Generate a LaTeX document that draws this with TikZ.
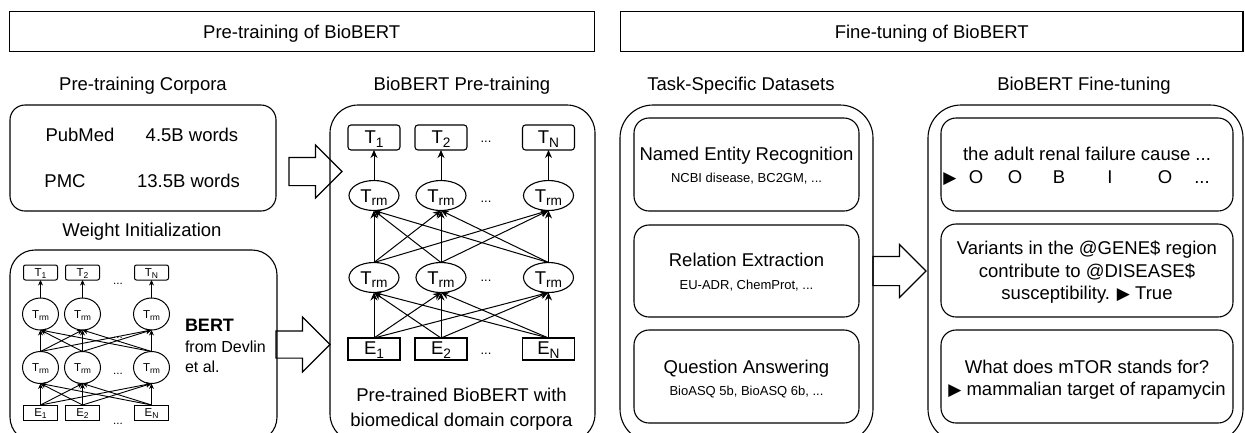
\documentclass[tikz,border=0pt]{standalone}
\usepackage{fontspec}
\setmainfont{Liberation Sans}
\newfontfamily\dejavu{DejaVu Sans}
\usepackage{graphicx}
\usetikzlibrary{shapes.geometric,shapes.arrows,arrows.meta}
\newcommand{\bigf}{\fontsize{18.5bp}{22bp}\selectfont}
\newcommand{\smallf}{\fontsize{13bp}{15bp}\selectfont}
\newcommand{\minif}{\fontsize{11.5bp}{13bp}\selectfont}
\newcommand{\lowsub}[1]{\raisebox{-0.2em}{\scalebox{0.74}{#1}}}
\newcommand{\tri}{{\dejavu\fontsize{17bp}{17bp}\selectfont ▶}}
\tikzset{
  every node/.style={inner sep=0pt, outer sep=0pt},
  ln/.style={line width=1.1bp, draw=black},
  hdr/.style={ln, rectangle, minimum height=40bp, font=\bigf, text height=13.3bp, text depth=0bp},
  panel/.style={ln, rectangle},
  tbox/.style={ln, rectangle, rounded corners=3bp, minimum width=52bp, minimum height=25bp, font=\bigf, text height=13.3bp, text depth=1.5bp},
  ebox/.style={ln, rectangle, minimum width=52bp, minimum height=22bp, font=\bigf, text height=13.3bp, text depth=1.5bp},
  trm/.style={ln, ellipse, minimum width=50bp, minimum height=30bp, font=\bigf, text height=13.3bp, text depth=0bp},
  mtbox/.style={ln, line width=1bp, rectangle, rounded corners=2bp, minimum width=34bp, minimum height=15bp, font=\minif, text height=8.3bp, text depth=1bp},
  mebox/.style={ln, line width=1bp, rectangle, minimum width=34bp, minimum height=15bp, font=\minif, text height=8.3bp, text depth=1bp},
  mtrm/.style={ln, line width=1bp, ellipse, minimum width=36bp, minimum height=32bp, font=\minif, text height=8.3bp, text depth=0bp},
  txt/.style={anchor=base, font=\bigf},
  stxt/.style={anchor=base, font=\smallf},
  dots/.style={anchor=base, font=\smallf},
  mdots/.style={anchor=base, font=\minif},
  arr/.style={line width=1bp, -{Stealth[length=8bp,width=7bp]}},
  marr/.style={line width=0.9bp, -{Stealth[length=5.5bp,width=5bp]}},
  blockarrow/.style={ln, single arrow, single arrow tip angle=90, anchor=tail, shape border rotate=0, inner xsep=0pt}
}
\begin{document}
\begin{tikzpicture}[x=1bp, y=-1bp]
\clip (0,0) rectangle (1245,432);
\fill[white] (0,0) rectangle (1245,432);

% headers
\node[hdr, minimum width=584.7bp] (hpre) at (301.7,31.7) {Pre-training of BioBERT};
\node[hdr, minimum width=622.4bp] (hfine) at (931.8,31.7) {Fine-tuning of BioBERT};

% section titles
\node[txt] (tcorp) at (143,90.6) {Pre-training Corpora};
\node[txt] (tbiopre) at (462,90.6) {BioBERT Pre-training};
\node[txt] (ttask) at (741,90.6) {Task-Specific Datasets};
\node[txt] (tfine) at (1084,90.6) {BioBERT Fine-tuning};
\node[txt] (tweight) at (142,236.6) {Weight Initialization};

% panels
\node[panel, rounded corners=15bp, minimum width=266bp, minimum height=106bp] (corp) at (143,158) {};
\node[panel, rounded corners=25bp, minimum width=267bp, minimum height=192bp] (bert) at (143.5,346) {};
\node[panel, rounded corners=28bp, minimum width=265bp, minimum height=337bp] (bio) at (462.5,273.5) {};
\node[panel, rounded corners=33bp, minimum width=253bp, minimum height=337bp] (task) at (746.5,273.5) {};
\node[panel, rounded corners=33bp, minimum width=315bp, minimum height=337bp] (fine) at (1085.5,273.5) {};

% corpora text
\node[txt] (pubmed) at (80,141.1) {PubMed};
\node[txt] (pubmedw) at (192,141.1) {4.5B words};
\node[txt] (pmc) at (65,187.6) {PMC};
\node[txt] (pmcw) at (188.5,187.6) {13.5B words};

% BERT mini network
\foreach \n/\x in {1/40.5,2/82.5,3/151.5}{
  \node[mtrm] (mr1\n) at (\x,314) {T\lowsub{rm}};
  \node[mtrm] (mr2\n) at (\x,367.5) {T\lowsub{rm}};
}
\node[mtbox] (mt1) at (40.5,272.5) {T\lowsub{1}};
\node[mtbox] (mt2) at (82.5,272.5) {T\lowsub{2}};
\node[mtbox] (mt3) at (151.5,272.5) {T\lowsub{N}};
\node[mebox] (me1) at (40.5,412.5) {E\lowsub{1}};
\node[mebox] (me2) at (82.5,412.5) {E\lowsub{2}};
\node[mebox] (me3) at (151.5,412.5) {E\lowsub{N}};
\node[mdots] (md1) at (118,284) {...};
\node[mdots] (md2) at (118,338) {...};
\node[mdots] (md3) at (118,374) {...};
\node[mdots] (md4) at (118,424.5) {...};
\foreach \i in {1,2,3}{
  \draw[marr] (mr1\i.north) -- (mt\i.south);
  \foreach \j in {1,2,3}{
    \draw[marr] (me\i.north) -- (mr2\j.south);
    \draw[marr] (mr2\i.north) -- (mr1\j.south);
  }
}
\node[anchor=base west, font=\fontsize{18bp}{20bp}\selectfont\bfseries] (bertlbl) at (185,331.5) {BERT};
\node[anchor=base west, font=\fontsize{16bp}{18bp}\selectfont] (bertsrc1) at (185,352) {from Devlin};
\node[anchor=base west, font=\fontsize{16bp}{18bp}\selectfont] (bertsrc2) at (185,372) {et al.};

% BioBERT main network
\foreach \n/\x in {1/374,2/441,3/548.5}{
  \node[trm] (r1\n) at (\x,195.5) {T\lowsub{rm}};
  \node[trm] (r2\n) at (\x,277.5) {T\lowsub{rm}};
}
\node[tbox] (t1) at (374,137.5) {T\lowsub{1}};
\node[tbox] (t2) at (441,137.5) {T\lowsub{2}};
\node[tbox] (t3) at (548.5,137.5) {T\lowsub{N}};
\node[ebox] (e1) at (374,349) {E\lowsub{1}};
\node[ebox] (e2) at (441,349) {E\lowsub{2}};
\node[ebox] (e3) at (548.5,349) {E\lowsub{N}};
\node[dots] (d1) at (486,142.7) {...};
\node[dots] (d2) at (486,202.7) {...};
\node[dots] (d3) at (486,281) {...};
\node[dots] (d4) at (486,354) {...};
\foreach \i in {1,2,3}{
  \draw[arr] (r1\i.north) -- (t\i.south);
  \foreach \j in {1,2,3}{
    \draw[arr] (e\i.north) -- (r2\j.south);
    \draw[arr] (r2\i.north) -- (r1\j.south);
  }
}
\node[txt] (biocap1) at (461.5,401.6) {Pre-trained BioBERT with};
\node[txt] (biocap2) at (461.5,426.6) {biomedical domain corpora};

% block arrows
\node[blockarrow, minimum height=53bp, inner ysep=13.5bp, single arrow head extend=12.5bp] (ba1) at (289,171.5) {};
\node[blockarrow, minimum height=54bp, inner ysep=13bp, single arrow head extend=14bp] (ba2) at (276,344.5) {};
\node[blockarrow, minimum height=53bp, inner ysep=14bp, single arrow head extend=12bp] (ba3) at (873,271) {};

% task-specific datasets
\node[panel, rounded corners=15bp, minimum width=225bp, minimum height=93bp] (ner) at (746.5,164.5) {};
\node[panel, rounded corners=15bp, minimum width=225bp, minimum height=92bp] (re) at (746.5,271) {};
\node[panel, rounded corners=15bp, minimum width=225bp, minimum height=93bp] (qa) at (746.5,376.5) {};
\node[txt] (nert) at (746.5,160.6) {Named Entity Recognition};
\node[stxt] (ners) at (746.5,182.7) {NCBI disease, BC2GM, ...};
\node[txt] (ret) at (746.5,266.6) {Relation Extraction};
\node[stxt] (res) at (746.5,289.7) {EU-ADR, ChemProt, ...};
\node[txt] (qat) at (746.5,373.6) {Question Answering};
\node[stxt] (qas) at (746.5,395.7) {BioASQ 5b, BioASQ 6b, ...};

% fine-tuning examples
\node[panel, rounded corners=15bp, minimum width=292bp, minimum height=93bp] (fner) at (1087,164.5) {};
\node[panel, rounded corners=15bp, minimum width=292bp, minimum height=93bp] (fre) at (1087,270.5) {};
\node[panel, rounded corners=15bp, minimum width=292bp, minimum height=93bp] (fqa) at (1087,376.5) {};
\node[txt] (fner1) at (1087,160.6) {the adult renal failure cause ...};
\node[anchor=base west, font=\bigf] (fner2) at (943,183.6) {\makebox[14bp]{\tri}\makebox[38bp]{O}\makebox[40bp]{O}\makebox[48bp]{B}\makebox[54bp]{I}\makebox[56bp]{O}\makebox[18bp]{...}};
\node[txt] (fre1) at (1087,254.6) {Variants in the @GENE\$ region};
\node[txt] (fre2) at (1087,277.6) {contribute to @DISEASE\$};
\node[txt] (fre3) at (1087,299.6) {susceptibility. \tri{} True};
\node[txt] (fqa1) at (1087,373.6) {What does mTOR stands for?};
\node[txt] (fqa2) at (1087,395.6) {\tri{} mammalian target of rapamycin};
\end{tikzpicture}
\end{document}
